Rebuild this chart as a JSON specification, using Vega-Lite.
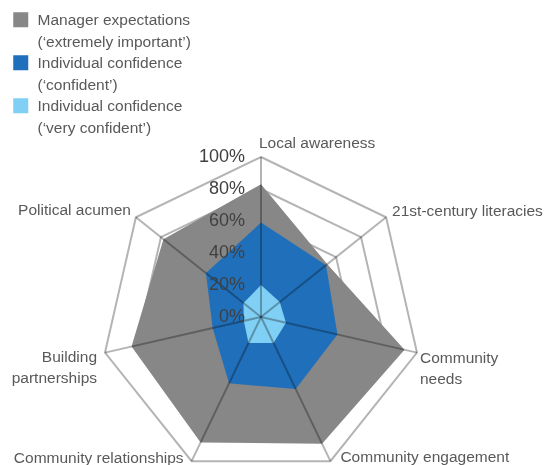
{
  "$schema": "https://vega.github.io/schema/vega-lite/v6.json",
  "width": 547,
  "height": 465,
  "padding": 0,
  "autosize": {"type": "none"},
  "background": "white",
  "config": {"view": {"stroke": null}, "font": "Liberation Sans", "style": {"guide-label": {"lineHeight": 22}}},
  "datasets": {
    "cats": [
      {"k": 0, "cat": "Local awareness"},
      {"k": 1, "cat": "21st-century literacies"},
      {"k": 2, "cat": "Community\nneeds"},
      {"k": 3, "cat": "Community engagement"},
      {"k": 4, "cat": "Community relationships"},
      {"k": 5, "cat": "Building\npartnerships"},
      {"k": 6, "cat": "Political acumen"}
    ],
    "levels": [
      {"level": 0}, {"level": 0.2}, {"level": 0.4}, {"level": 0.6}, {"level": 0.8}, {"level": 1}
    ],
    "rings": [
      {"level": 0.2, "k": 0}, {"level": 0.2, "k": 1}, {"level": 0.2, "k": 2}, {"level": 0.2, "k": 3}, {"level": 0.2, "k": 4}, {"level": 0.2, "k": 5}, {"level": 0.2, "k": 6},
      {"level": 0.4, "k": 0}, {"level": 0.4, "k": 1}, {"level": 0.4, "k": 2}, {"level": 0.4, "k": 3}, {"level": 0.4, "k": 4}, {"level": 0.4, "k": 5}, {"level": 0.4, "k": 6},
      {"level": 0.6, "k": 0}, {"level": 0.6, "k": 1}, {"level": 0.6, "k": 2}, {"level": 0.6, "k": 3}, {"level": 0.6, "k": 4}, {"level": 0.6, "k": 5}, {"level": 0.6, "k": 6},
      {"level": 0.8, "k": 0}, {"level": 0.8, "k": 1}, {"level": 0.8, "k": 2}, {"level": 0.8, "k": 3}, {"level": 0.8, "k": 4}, {"level": 0.8, "k": 5}, {"level": 0.8, "k": 6},
      {"level": 1, "k": 0}, {"level": 1, "k": 1}, {"level": 1, "k": 2}, {"level": 1, "k": 3}, {"level": 1, "k": 4}, {"level": 1, "k": 5}, {"level": 1, "k": 6}
    ],
    "scores": [
      {"series": "Manager expectations|(‘extremely important’)", "k": 0, "value": 0.83},
      {"series": "Manager expectations|(‘extremely important’)", "k": 1, "value": 0.53},
      {"series": "Manager expectations|(‘extremely important’)", "k": 2, "value": 0.92},
      {"series": "Manager expectations|(‘extremely important’)", "k": 3, "value": 0.88},
      {"series": "Manager expectations|(‘extremely important’)", "k": 4, "value": 0.87},
      {"series": "Manager expectations|(‘extremely important’)", "k": 5, "value": 0.83},
      {"series": "Manager expectations|(‘extremely important’)", "k": 6, "value": 0.78},
      {"series": "Individual confidence|(‘confident’)", "k": 0, "value": 0.59},
      {"series": "Individual confidence|(‘confident’)", "k": 1, "value": 0.52},
      {"series": "Individual confidence|(‘confident’)", "k": 2, "value": 0.49},
      {"series": "Individual confidence|(‘confident’)", "k": 3, "value": 0.5},
      {"series": "Individual confidence|(‘confident’)", "k": 4, "value": 0.46},
      {"series": "Individual confidence|(‘confident’)", "k": 5, "value": 0.31},
      {"series": "Individual confidence|(‘confident’)", "k": 6, "value": 0.44},
      {"series": "Individual confidence|(‘very confident’)", "k": 0, "value": 0.2},
      {"series": "Individual confidence|(‘very confident’)", "k": 1, "value": 0.15},
      {"series": "Individual confidence|(‘very confident’)", "k": 2, "value": 0.16},
      {"series": "Individual confidence|(‘very confident’)", "k": 3, "value": 0.18},
      {"series": "Individual confidence|(‘very confident’)", "k": 4, "value": 0.18},
      {"series": "Individual confidence|(‘very confident’)", "k": 5, "value": 0.11},
      {"series": "Individual confidence|(‘very confident’)", "k": 6, "value": 0.14}
    ]
  },
  "layer": [
    {
      "data": {"name": "rings"},
      "transform": [
        {"calculate": "datum.k*2*PI/7", "as": "a"},
        {"calculate": "datum.level*sin(datum.a)", "as": "px"},
        {"calculate": "datum.level*cos(datum.a)", "as": "py"}
      ],
      "mark": {"type": "line", "interpolate": "linear-closed", "stroke": "#b4b4b4", "strokeWidth": 2},
      "encoding": {
        "x": {"field": "px", "type": "quantitative", "scale": {"domain": [-1.63125, 1.7875], "nice": false, "zero": false}, "axis": null},
        "y": {"field": "py", "type": "quantitative", "scale": {"domain": [-0.925, 1.98125], "nice": false, "zero": false}, "axis": null},
        "detail": {"field": "level", "type": "nominal"},
        "order": {"field": "k", "type": "quantitative"}
      }
    },
    {
      "data": {"name": "scores"},
      "transform": [
        {"filter": "indexof(datum.series, 'Manager') == 0"},
        {"calculate": "datum.k*2*PI/7", "as": "a"},
        {"calculate": "datum.value*sin(datum.a)", "as": "px"},
        {"calculate": "datum.value*cos(datum.a)", "as": "py"}
      ],
      "mark": {"type": "line", "interpolate": "linear-closed", "strokeWidth": 0, "fillOpacity": 1},
      "encoding": {
        "x": {"field": "px", "type": "quantitative", "scale": {"domain": [-1.63125, 1.7875], "nice": false, "zero": false}, "axis": null},
        "y": {"field": "py", "type": "quantitative", "scale": {"domain": [-0.925, 1.98125], "nice": false, "zero": false}, "axis": null},
        "fill": {
          "field": "series", "type": "nominal",
          "scale": {
            "domain": ["Manager expectations|(‘extremely important’)", "Individual confidence|(‘confident’)", "Individual confidence|(‘very confident’)"],
            "range": ["#878787", "#1f6fba", "#80cff4"]
          },
          "legend": {
            "orient": "none", "legendX": 13, "legendY": 12, "title": null,
            "symbolType": "square", "symbolSize": 225, "symbolStrokeWidth": 0, "symbolOpacity": 1,
            "labelFont": "Liberation Sans", "labelFontSize": 15.5, "labelColor": "#595959",
            "labelExpr": "split(datum.label, '|')", "labelLimit": 400, "labelOffset": 9,
            "rowPadding": 4, "padding": 0, "offset": 0
          }
        },
        "order": {"field": "k", "type": "quantitative"}
      }
    },
    {
      "data": {"name": "scores"},
      "transform": [
        {"filter": "datum.series == 'Individual confidence|(‘confident’)'"},
        {"calculate": "datum.k*2*PI/7", "as": "a"},
        {"calculate": "datum.value*sin(datum.a)", "as": "px"},
        {"calculate": "datum.value*cos(datum.a)", "as": "py"}
      ],
      "mark": {"type": "line", "interpolate": "linear-closed", "strokeWidth": 0, "fillOpacity": 1},
      "encoding": {
        "x": {"field": "px", "type": "quantitative", "scale": {"domain": [-1.63125, 1.7875], "nice": false, "zero": false}, "axis": null},
        "y": {"field": "py", "type": "quantitative", "scale": {"domain": [-0.925, 1.98125], "nice": false, "zero": false}, "axis": null},
        "fill": {"field": "series", "type": "nominal"},
        "order": {"field": "k", "type": "quantitative"}
      }
    },
    {
      "data": {"name": "scores"},
      "transform": [
        {"filter": "datum.series == 'Individual confidence|(‘very confident’)'"},
        {"calculate": "datum.k*2*PI/7", "as": "a"},
        {"calculate": "datum.value*sin(datum.a)", "as": "px"},
        {"calculate": "datum.value*cos(datum.a)", "as": "py"}
      ],
      "mark": {"type": "line", "interpolate": "linear-closed", "strokeWidth": 0, "fillOpacity": 1},
      "encoding": {
        "x": {"field": "px", "type": "quantitative", "scale": {"domain": [-1.63125, 1.7875], "nice": false, "zero": false}, "axis": null},
        "y": {"field": "py", "type": "quantitative", "scale": {"domain": [-0.925, 1.98125], "nice": false, "zero": false}, "axis": null},
        "fill": {"field": "series", "type": "nominal"},
        "order": {"field": "k", "type": "quantitative"}
      }
    },
    {
      "data": {"name": "cats"},
      "transform": [
        {"calculate": "datum.k*2*PI/7", "as": "a"},
        {"calculate": "0", "as": "ox"},
        {"calculate": "0", "as": "oy"},
        {"calculate": "sin(datum.a)", "as": "px"},
        {"calculate": "cos(datum.a)", "as": "py"}
      ],
      "mark": {"type": "rule", "color": "#b4b4b4", "strokeWidth": 2, "blend": "multiply"},
      "encoding": {
        "x": {"field": "ox", "type": "quantitative", "scale": {"domain": [-1.63125, 1.7875], "nice": false, "zero": false}, "axis": null},
        "y": {"field": "oy", "type": "quantitative", "scale": {"domain": [-0.925, 1.98125], "nice": false, "zero": false}, "axis": null},
        "x2": {"field": "px"},
        "y2": {"field": "py"}
      }
    },
    {
      "data": {"name": "levels"},
      "transform": [{"calculate": "0", "as": "ox"}],
      "mark": {"type": "text", "align": "right", "baseline": "middle", "dx": -16, "fontSize": 18, "color": "#404040", "font": "Liberation Sans"},
      "encoding": {
        "x": {"field": "ox", "type": "quantitative", "scale": {"domain": [-1.63125, 1.7875], "nice": false, "zero": false}, "axis": null},
        "y": {"field": "level", "type": "quantitative", "scale": {"domain": [-0.925, 1.98125], "nice": false, "zero": false}, "axis": null},
        "text": {"field": "level", "type": "quantitative", "format": ".0%"}
      }
    },
    {
      "data": {"name": "cats"},
      "transform": [
        {"calculate": "datum.k*2*PI/7", "as": "a"},
        {"calculate": "sin(datum.a)", "as": "px"},
        {"calculate": "cos(datum.a)", "as": "py"}
      ],
      "layer": [
        {"transform": [{"filter": "datum.k == 0"}], "mark": {"type": "text", "align": "left", "baseline": "middle", "dx": -2, "dy": -14, "fontSize": 15.5, "color": "#595959", "lineBreak": "\n", "lineHeight": 21}},
        {"transform": [{"filter": "datum.k == 1"}], "mark": {"type": "text", "align": "left", "baseline": "middle", "dx": 6, "dy": -6, "fontSize": 15.5, "color": "#595959", "lineBreak": "\n", "lineHeight": 21}},
        {"transform": [{"filter": "datum.k == 2"}], "mark": {"type": "text", "align": "left", "baseline": "middle", "dx": 3, "dy": 5, "fontSize": 15.5, "color": "#595959", "lineBreak": "\n", "lineHeight": 21}},
        {"transform": [{"filter": "datum.k == 3"}], "mark": {"type": "text", "align": "left", "baseline": "middle", "dx": 10, "dy": -4, "fontSize": 15.5, "color": "#595959", "lineBreak": "\n", "lineHeight": 21}},
        {"transform": [{"filter": "datum.k == 4"}], "mark": {"type": "text", "align": "right", "baseline": "middle", "dx": -8, "dy": -3, "fontSize": 15.5, "color": "#595959", "lineBreak": "\n", "lineHeight": 21}},
        {"transform": [{"filter": "datum.k == 5"}], "mark": {"type": "text", "align": "right", "baseline": "middle", "dx": -8, "dy": 4, "fontSize": 15.5, "color": "#595959", "lineBreak": "\n", "lineHeight": 21}},
        {"transform": [{"filter": "datum.k == 6"}], "mark": {"type": "text", "align": "right", "baseline": "middle", "dx": -5, "dy": -7, "fontSize": 15.5, "color": "#595959", "lineBreak": "\n", "lineHeight": 21}}
      ],
      "encoding": {
        "x": {"field": "px", "type": "quantitative", "scale": {"domain": [-1.63125, 1.7875], "nice": false, "zero": false}, "axis": null},
        "y": {"field": "py", "type": "quantitative", "scale": {"domain": [-0.925, 1.98125], "nice": false, "zero": false}, "axis": null},
        "text": {"field": "cat", "type": "nominal"}
      }
    }
  ]
}
